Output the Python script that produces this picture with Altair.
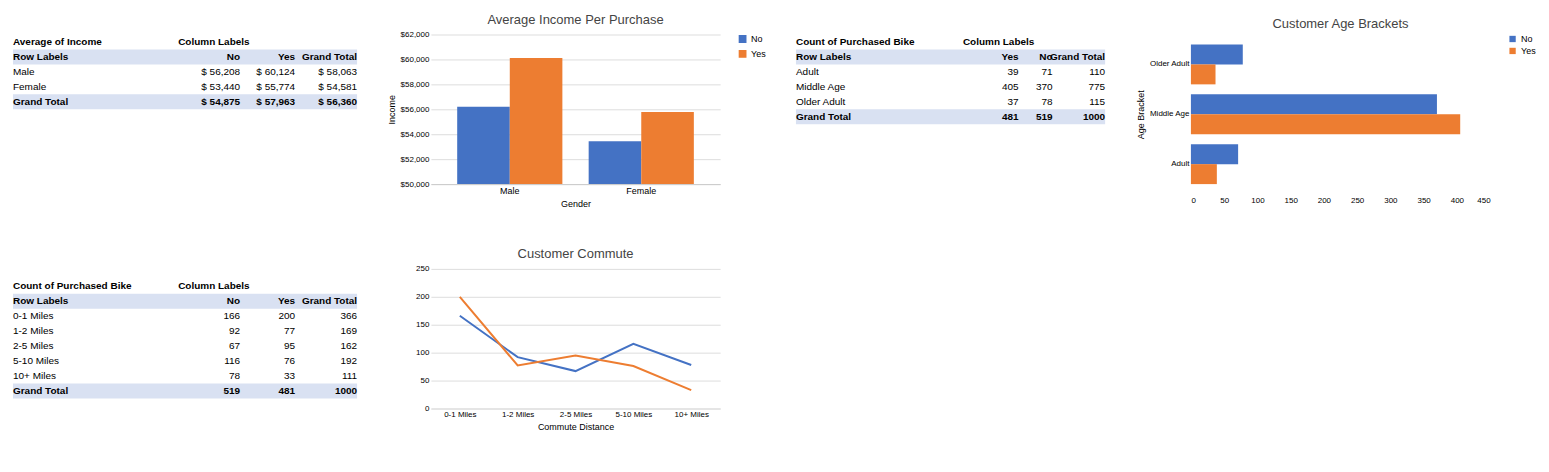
import altair as alt
import pandas as pd

BLUE = "#4472C4"
ORANGE = "#ED7D31"
FONT = "Liberation Sans"
HEAD_BG = "#D9E1F2"

# income by gender
genders = ["Male", "Female"]
income_no = [56208, 53440]
income_yes = [60124, 55774]
income_total = [58063, 54581]
income_grand = [54875, 57963, 56360]

# age brackets
ages = ["Adult", "Middle Age", "Older Adult"]
age_no = [71, 370, 78]
age_yes = [39, 405, 37]

# commute
commutes = ["0-1 Miles", "1-2 Miles", "2-5 Miles", "5-10 Miles", "10+ Miles"]
commute_no = [166, 92, 67, 116, 78]
commute_yes = [200, 77, 95, 76, 33]


def make_table(rows, bold_rows, shade_rows, anchors, width):
    cells = []
    for r, row in enumerate(rows):
        for c, txt in enumerate(row):
            cells.append({"r": r, "x": anchors[c] if (c == 0 or r > 0) else anchors[c] - 18,
                          "t": txt,
                          "left": c == 0 or r == 0,
                          "bold": r in bold_rows})
    df = pd.DataFrame(cells)
    order = list(range(len(rows)))
    y = alt.Y("r:O", axis=None, scale=alt.Scale(domain=order))
    xs = alt.X("x:Q", axis=None, scale=alt.Scale(domain=[0, 100]))
    bg = alt.Chart(pd.DataFrame({"r": shade_rows})).mark_rect(color=HEAD_BG).encode(
        y=y, x=alt.value(0), x2=alt.value(width))
    layers = [bg]
    for left in (True, False):
        for bold in (True, False):
            sub = df[(df.left == left) & (df.bold == bold)]
            if sub.empty:
                continue
            layers.append(alt.Chart(sub).mark_text(
                align="left" if left else "right", font=FONT, fontSize=10,
                fontWeight="bold" if bold else "normal", color="black"
            ).encode(x=xs, y=y, text="t:N"))
    return alt.layer(*layers).properties(width=width, height=len(rows) * 15)


def money(v):
    return f"$ {v:,}"

t1_rows = [["Average of Income", "Column Labels", "", ""],
           ["Row Labels", "No", "Yes", "Grand Total"]]
for g, a, b, c in zip(genders, income_no, income_yes, income_total):
    t1_rows.append([g, money(a), money(b), money(c)])
t1_rows.append(["Grand Total"] + [money(v) for v in income_grand])
table1 = make_table(t1_rows, {0, 1, 4}, [1, 4], [0, 66, 82, 100], 345)

t2_rows = [["Count of Purchased Bike", "Column Labels", "", ""],
           ["Row Labels", "No", "Yes", "Grand Total"]]
for c, a, b in zip(commutes, commute_no, commute_yes):
    t2_rows.append([c, str(a), str(b), str(a + b)])
t2_rows.append(["Grand Total", str(sum(commute_no)), str(sum(commute_yes)),
                str(sum(commute_no) + sum(commute_yes))])
table2 = make_table(t2_rows, {0, 1, 7}, [1, 7], [0, 66, 82, 100], 345)

t3_rows = [["Count of Purchased Bike", "Column Labels", "", ""],
           ["Row Labels", "Yes", "No", "Grand Total"]]
for a, n, y_ in zip(ages, age_no, age_yes):
    t3_rows.append([a, str(y_), str(n), str(n + y_)])
t3_rows.append(["Grand Total", str(sum(age_yes)), str(sum(age_no)),
                str(sum(age_no) + sum(age_yes))])
table3 = make_table(t3_rows, {0, 1, 5}, [1, 5], [0, 72, 83, 100], 310)

legend = alt.Legend(title=None, orient="right", labelFont=FONT, labelFontSize=9,
                    symbolSize=40)
color = alt.Color("s:N", scale=alt.Scale(domain=["No", "Yes"], range=[BLUE, ORANGE]),
                  legend=legend)
title_style = dict(font=FONT, fontSize=13, fontWeight="normal", color="#444")

inc = pd.DataFrame({"g": genders * 2, "v": income_no + income_yes,
                    "s": ["No"] * 2 + ["Yes"] * 2})
income_chart = alt.Chart(inc).mark_bar(clip=True).encode(
    x=alt.X("g:N", sort=genders, title="Gender",
            axis=alt.Axis(labelAngle=0, labelFont=FONT, titleFont=FONT,
                          titleFontWeight="normal", labelFontSize=9, titleFontSize=9,
                          domainColor="#ccc", ticks=False)),
    xOffset=alt.XOffset("s:N"),
    y=alt.Y("v:Q", title="Income", scale=alt.Scale(domain=[50000, 62000]),
            axis=alt.Axis(format="$,.0f", tickCount=6, labelFont=FONT, labelFontSize=8,
                          titleFont=FONT, titleFontWeight="normal", titleFontSize=9,
                          domain=False, ticks=False, gridColor="#ddd")),
    color=color,
).properties(width=290, height=150,
             title=alt.TitleParams("Average Income Per Purchase", **title_style))

com = pd.DataFrame({"c": commutes * 2, "v": commute_no + commute_yes,
                    "s": ["No"] * 5 + ["Yes"] * 5})
commute_chart = alt.Chart(com).mark_line(strokeWidth=2).encode(
    x=alt.X("c:N", sort=commutes, title="Commute Distance",
            axis=alt.Axis(labelAngle=0, labelFont=FONT, titleFont=FONT, titleFontWeight="normal",
                          labelFontSize=8, titleFontSize=9, ticks=False, domainColor="#ddd")),
    y=alt.Y("v:Q", title=None, scale=alt.Scale(domain=[0, 250]),
            axis=alt.Axis(tickCount=5, labelFont=FONT, labelFontSize=8, domain=False,
                          ticks=False, gridColor="#ddd")),
    color=color,
).properties(width=290, height=140,
             title=alt.TitleParams("Customer Commute", **title_style))

age = pd.DataFrame({"a": ages * 2, "v": age_no + age_yes,
                    "s": ["No"] * 3 + ["Yes"] * 3})
age_chart = alt.Chart(age).mark_bar().encode(
    y=alt.Y("a:N", sort=ages[::-1], title="Age Bracket",
            axis=alt.Axis(labelFont=FONT, labelFontSize=8, titleFont=FONT,
                          titleFontWeight="normal", titleFontSize=9, ticks=False,
                          domain=False)),
    yOffset=alt.YOffset("s:N"),
    x=alt.X("v:Q", title=None, scale=alt.Scale(domain=[0, 450]),
            axis=alt.Axis(values=list(range(0, 451, 50)), labelFont=FONT, labelFontSize=8,
                          grid=False, domain=False, ticks=False)),
    color=color,
).properties(width=300, height=160,
             title=alt.TitleParams("Customer Age Brackets", **title_style))

chart = alt.hconcat(
    alt.vconcat(table1, table2, spacing=170),
    alt.vconcat(income_chart, commute_chart, spacing=40),
    table3,
    age_chart,
    spacing=30,
).resolve_scale(color="independent").configure_view(stroke=None).properties(
    background="white")

chart.save("out.html", embed_options={"renderer": "svg", "actions": False})
